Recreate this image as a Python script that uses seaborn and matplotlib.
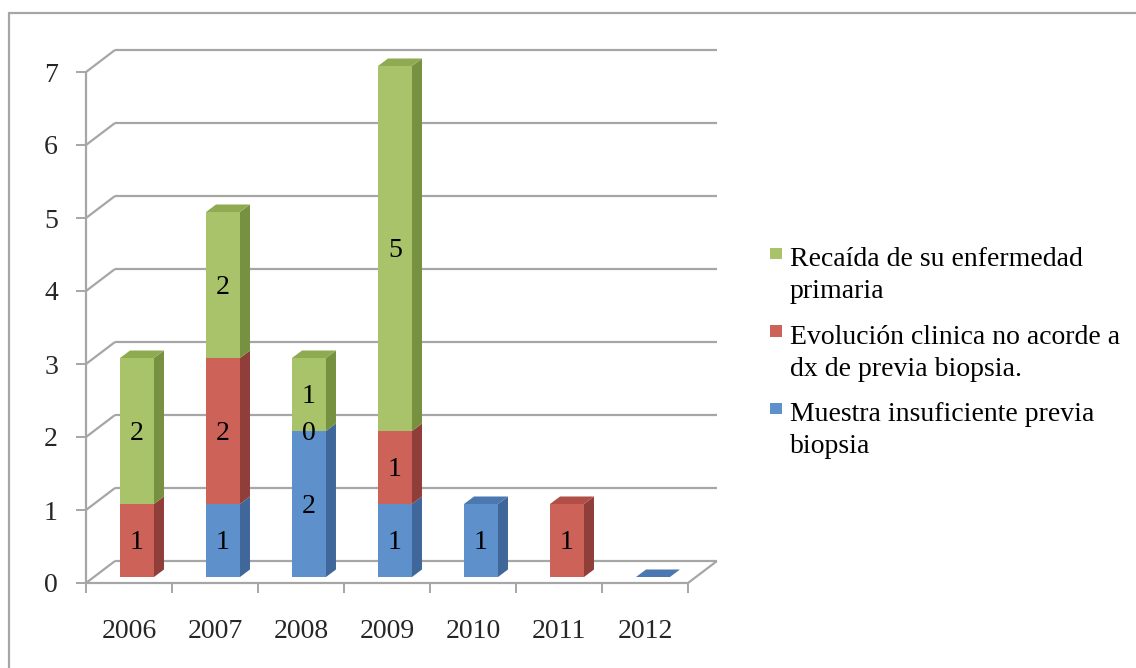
import numpy as np
import pandas as pd
import matplotlib
matplotlib.use("Agg")
import matplotlib.pyplot as plt
from matplotlib.patches import Polygon, Rectangle
from matplotlib.lines import Line2D
import seaborn as sns

# ---- data ---------------------------------------------------------------
years = ["2006", "2007", "2008", "2009", "2010", "2011", "2012"]
# None = empty cell (no label), 0 = recorded zero (labelled)
muestra = [None, 1, 2, 1, 1, None, None]
evolucion = [1, 2, 0, 1, None, 1, None]
recaida = [2, 2, 1, 5, None, None, None]
series_labels = [
    "Muestra insuficiente previa\nbiopsia",
    "Evolución clinica no acorde a\ndx de previa biopsia.",
    "Recaída de su enfermedad\nprimaria",
]
y_ticks = [0, 1, 2, 3, 4, 5, 6, 7]

# ---- style --------------------------------------------------------------
W, H, DPI = 1136, 668, 100
sns.set_theme(style="white")
plt.rcParams["font.family"] = ["Liberation Serif", "DejaVu Serif"]
FS = 20
GRID = "#a6a6a6"

# front / side / top shades per series (bottom -> top of the stack)
front = ["#5e90cb", "#cd6259", "#a8c36a"]
side = ["#40679a", "#8f3e39", "#76913f"]
top = ["#4b78b0", "#b14f47", "#8eab52"]

# depth offsets in pixels (right, up)
WALL = (29, 22)
BAR_FRONT = (8, 6)
BAR_BACK = (18, 13.5)
BAR_W = 0.395

fig = plt.figure(figsize=(W / DPI, H / DPI), dpi=DPI, facecolor="white")
ax = fig.add_axes([86 / W, (H - 583) / H, (688 - 86) / W, (583 - 72) / H])

series = [muestra, evolucion, recaida]
vals = np.array([[0 if v is None else v for v in s] for s in series], dtype=float)
bottoms = np.vstack([np.zeros(len(years)), np.cumsum(vals, axis=0)[:-1]])
tops = np.cumsum(vals, axis=0)

# front faces: cumulative heights drawn from the tallest layer down
for k in reversed(range(len(series))):
    sns.barplot(x=years, y=tops[k], order=years, color=front[k], saturation=1,
                width=BAR_W, errorbar=None, ax=ax, zorder=3,
                edgecolor="none", linewidth=0)

ax.set_xlim(-0.5, len(years) - 0.5)
ax.set_ylim(0, max(y_ticks))
for s in ax.spines.values():
    s.set_visible(False)
ax.set_xlabel("")
ax.set_ylabel("")

# pixel -> data conversion
fig.canvas.draw()
p0, p1 = ax.transData.transform([(0, 0), (1, 1)])
sx, sy = p1 - p0


def off(pt, d):
    return (pt[0] + d[0] / sx, pt[1] + d[1] / sy)


for p in ax.patches:
    p.set_x(p.get_x() + BAR_FRONT[0] / sx)
    p.set_y(p.get_y() + BAR_FRONT[1] / sy)
    p.set_clip_on(False)

# walls and floor
lk = dict(color=GRID, lw=1.6, clip_on=False, zorder=1, solid_capstyle="butt")
x0, x1 = -0.5, len(years) - 0.5
for y in y_ticks:
    a, b = off((x0, y), WALL), off((x1, y), WALL)
    ax.plot([a[0], b[0]], [a[1], b[1]], **lk)
    ax.plot([x0, a[0]], [y, a[1]], **lk)
c = off((x1, 0), WALL)
ax.plot([x1, c[0]], [0, c[1]], **lk)
ax.plot([x0, x1], [0, 0], **lk)
ax.plot([x0, x0], [0, max(y_ticks)], **lk)

# side and top faces of the bars
for i in range(len(years)):
    xl, xr = i - BAR_W / 2, i + BAR_W / 2
    for k in range(len(series)):
        b, t = bottoms[k, i], tops[k, i]
        if t > b:
            pts = [off((xr, b), BAR_FRONT), off((xr, t), BAR_FRONT),
                   off((xr, t), BAR_BACK), off((xr, b), BAR_BACK)]
            ax.add_patch(Polygon(pts, closed=True, facecolor=side[k],
                                 edgecolor="none", zorder=3, clip_on=False))
    total = tops[-1, i]
    nz = [k for k in range(len(series)) if vals[k, i] > 0]
    kt = nz[-1] if nz else 0
    pts = [off((xl, total), BAR_FRONT), off((xr, total), BAR_FRONT),
           off((xr, total), BAR_BACK), off((xl, total), BAR_BACK)]
    ax.add_patch(Polygon(pts, closed=True, facecolor=top[kt],
                         edgecolor="none", zorder=3, clip_on=False))

# value labels
for k, s in enumerate(series):
    for i, v in enumerate(s):
        if v is None:
            continue
        cx, cy = off((i, (bottoms[k, i] + tops[k, i]) / 2), BAR_FRONT)
        ax.text(cx, cy - 0.03, f"{v:g}", ha="center", va="center", fontsize=FS,
                color="black", zorder=5)

# ticks
ax.set_yticks(y_ticks)
ax.set_yticklabels([str(v) for v in y_ticks], fontsize=FS, va="top")
for lab in ax.get_yticklabels():
    lab.set_y(lab.get_position()[1])
ax.set_xticks(np.arange(len(years) + 1) - 0.5)
ax.set_xticklabels([])
ax.set_xticks(np.arange(len(years)), minor=True)
ax.set_xticklabels(years, minor=True, fontsize=FS)
ax.tick_params(axis="y", which="major", left=True, length=7.2, width=1.4,
               color=GRID, direction="out", pad=13)
ax.tick_params(axis="x", which="major", bottom=True, length=7.2, width=1.4,
               color=GRID, direction="out")
ax.tick_params(axis="x", which="minor", bottom=True, length=0, pad=26)
ax.set_yticklabels([str(v) for v in y_ticks], fontsize=FS, va="center_baseline")
ax.grid(False)
ax.set_facecolor("none")

# legend (top of stack listed first)
lx, base0, step, lgap = 790, 266, 77.5, 32
for j, k in enumerate(reversed(range(len(series)))):
    base = base0 + step * j
    fig.patches.append(Rectangle(((lx - 20) / W, 1 - (base - 7) / H), 12 / W, 11 / H,
                                 transform=fig.transFigure, facecolor=front[k],
                                 edgecolor="none"))
    for m, line in enumerate(series_labels[k].split("\n")):
        fig.text(lx / W, 1 - (base + lgap * m) / H, line, fontsize=FS,
                 ha="left", va="baseline", color="black")

# outer frame
fig.add_artist(Line2D([9 / W, 1], [1 - 13 / H, 1 - 13 / H], transform=fig.transFigure,
                      color=GRID, lw=1.6))
fig.add_artist(Line2D([9 / W, 9 / W], [0, 1 - 13 / H], transform=fig.transFigure,
                      color=GRID, lw=1.6))

fig.savefig("out.png", dpi=DPI, facecolor="white")
